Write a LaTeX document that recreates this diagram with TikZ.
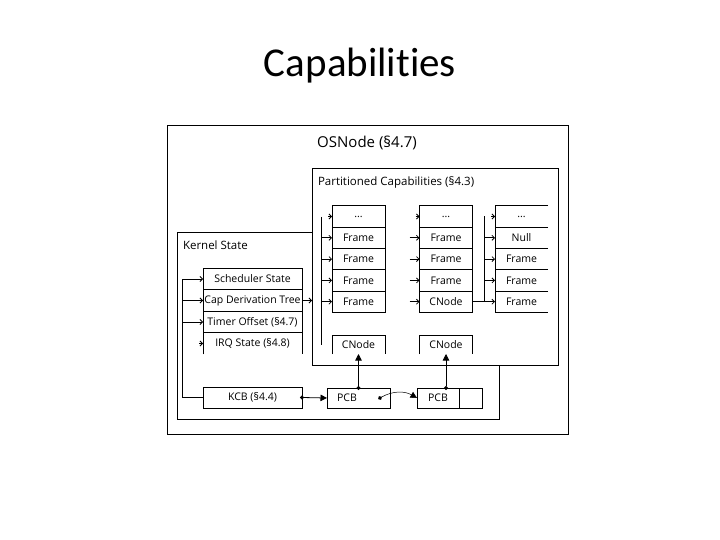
\documentclass[tikz,border=0pt]{standalone}
\usepackage{fontspec}
\setmainfont{Open Sans}
\newfontfamily\titlefont[Ligatures=NoCommon]{Carlito}
\usetikzlibrary{arrows.meta}

\begin{document}
\begin{tikzpicture}[x=1pt, y=-1pt, line width=0.8pt,
    every node/.style={inner sep=0pt, outer sep=0pt, font=\fontsize{10.5}{12}\selectfont},
    cell/.style={draw, minimum width=53pt, minimum height=21.3pt},
    kcell/.style={draw, minimum width=99pt, minimum height=21.5pt},
    box/.style={draw, fill=white},
    heading/.style={font=\fontsize{11.5}{14}\selectfont, anchor=west},
    tip/.style={-{Straight Barb[length=2.5pt,width=5pt]}},
    ptr/.style={{Circle[length=4pt]}-{Triangle[length=6.5pt,width=6.5pt]}, shorten <=-2pt}]
        \useasboundingbox (0,0) rectangle (720,540);

        % Title
        \node[font=\titlefont\fontsize{41}{48}\selectfont, anchor=base] (title) at (360,77) {Capabilities};

        % Define the boxes
        \node[box, minimum width=401pt, minimum height=309pt] (os) at (367.5,279.5) {};
        \node[box, minimum width=322pt, minimum height=187pt] (ks) at (338,325.5) {};
        \node[box, minimum width=246pt, minimum height=197pt] (pc) at (435,266.5) {};
        \node[font=\fontsize{15}{18}\selectfont] (osl) at (367,143) {OSNode (§4.7)};
        \node[heading] (ksl) at (183,245) {Kernel State};
        \node[heading] (pcl) at (318,182) {Partitioned Capabilities (§4.3)};

        % Kernel state
        \node[kcell] (sched) at (252.5,279) {Scheduler State};
        \node[kcell] (cdt) at (252.5,300.5) {Cap Derivation Tree};
        \node[kcell] (timer) at (252.5,322) {Timer Offset (§4.7)};
        \node[kcell, draw=none] (irq) at (252.5,343.5) {IRQ State (§4.8)};
        \draw (irq.south west) -- (irq.north west) (irq.north east) -- (irq.south east);
        \node[kcell, minimum height=21pt] (kcb) at (252.5,397.5) {KCB (§4.4)};

        % Capability columns
        \node[cell] (A0) at (358.5,216.5) {...};
        \node[cell] (A1) at (358.5,237.8) {Frame};
        \node[cell] (A2) at (358.5,259.1) {Frame};
        \node[cell] (A3) at (358.5,280.4) {Frame};
        \node[cell] (A4) at (358.5,301.7) {Frame};
        \node[cell] (B0) at (446,216.5) {...};
        \node[cell] (B1) at (446,237.8) {Frame};
        \node[cell] (B2) at (446,259.1) {Frame};
        \node[cell] (B3) at (446,280.4) {Frame};
        \node[cell] (B4) at (446,301.7) {CNode};
        \node[cell, draw=none] (C0) at (521.5,216.5) {...};
        \node[cell, draw=none] (C1) at (521.5,237.8) {Null};
        \node[cell, draw=none] (C2) at (521.5,259.1) {Frame};
        \node[cell, draw=none] (C3) at (521.5,280.4) {Frame};
        \node[cell, draw=none] (C4) at (521.5,301.7) {Frame};
        \foreach \n in {0,...,4}
            \draw (C\n.north east) -- (C\n.north west) -- (C\n.south west) -- (C\n.south east);

        % Open CNodes and PCBs
        \node[minimum width=53pt, minimum height=19pt] (CA) at (358.5,344.5) {CNode};
        \node[minimum width=53pt, minimum height=19pt] (CB) at (446,344.5) {CNode};
        \draw (CA.south west) -- (CA.north west) -- (CA.north east) -- (CA.south east);
        \draw (CB.south west) -- (CB.north west) -- (CB.north east) -- (CB.south east);
        \node[draw, minimum width=63pt, minimum height=20pt] (pcb1) at (358.5,398) {};
        \node (pcb1l) at (347,398) {PCB};
        \node[draw, minimum width=42pt, minimum height=20pt] (pcb2) at (438,398) {PCB};
        \node[draw, minimum width=23pt, minimum height=20pt, anchor=west] (pcb2n) at (pcb2.east) {};

        % Connectors
        \coordinate (fb) at (182,279);
        \coordinate (v1) at (321,217);
        \coordinate (v1end) at (321,345);
        \coordinate (v3) at (484,216);
        \coordinate (pcb1p) at (380,398);
        \draw (kcb.west) -| (fb);
        \draw[tip] (fb) -- (sched.west);
        \draw[tip] (fb |- cdt.west) -- (cdt.west);
        \draw[tip] (fb |- timer.west) -- (timer.west);
        \draw[tip] ([xshift=-4pt]irq.west) -- (irq.west);
        \draw[tip] (cdt.east) -- (cdt.east -| pc.west);
        \draw (v1) -- (v1end);
        \draw (B4.east) -| (v3);
        \foreach \n in {1,...,4} {
            \draw[tip] (v1 |- A\n.west) -- (A\n.west);
            \draw[tip] ([xshift=-10pt]B\n.west) -- (B\n.west);
            \draw[tip] (v3 |- C\n.west) -- (C\n.west);
        }
        \draw[tip] ([xshift=-4pt]A0.west) -- (A0.west);
        \draw[tip] ([xshift=-4pt]B0.west) -- (B0.west);
        \draw[tip] ([xshift=-4pt]C0.west) -- (C0.west);
        \draw[ptr] (kcb.east) -- (pcb1.west);
        \draw[ptr, line width=0.5pt] (pcb1p) to[bend left=30] (pcb2.west);
        \draw[ptr] (pcb1.north) -- (CA.south);
        \draw[ptr] (CB.south |- pcb2.north) -- (CB.south);
    \end{tikzpicture}
\end{document}
